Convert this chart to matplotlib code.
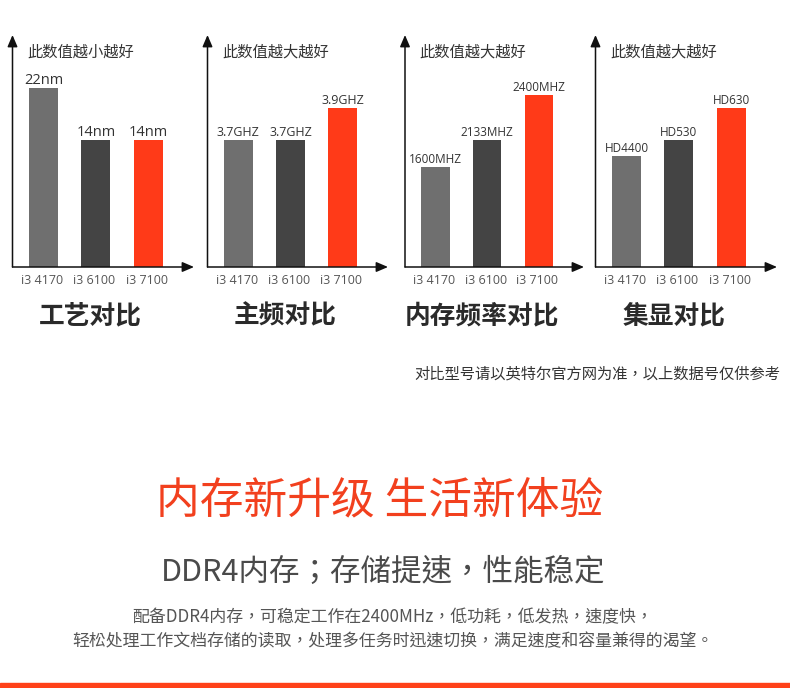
import matplotlib
matplotlib.use("Agg")
import matplotlib.pyplot as plt
from matplotlib.patches import Rectangle

plt.rcParams['font.family'] = ['Noto Sans CJK SC', 'DejaVu Sans']

# data (bar heights are relative, axis height = 232)
models = ['i3 4170', 'i3 6100', 'i3 7100']
titles = ['工艺对比', '主频对比', '内存频率对比', '集显对比']
hints = ['此数值越小越好', '此数值越大越好', '此数值越大越好', '此数值越大越好']
process_labels = ['22nm', '14nm', '14nm']
process_heights = [179, 127, 127]
freq_labels = ['3.7GHZ', '3.7GHZ', '3.9GHZ']
freq_heights = [127, 127, 159]
mem_labels = ['1600MHZ', '2133MHZ', '2400MHZ']
mem_heights = [100, 127, 172]
gpu_labels = ['HD4400', 'HD530', 'HD630']
gpu_heights = [111, 127, 159]

panels = [
    (process_labels, process_heights),
    (freq_labels, freq_heights),
    (mem_labels, mem_heights),
    (gpu_labels, gpu_heights),
]

bar_colors = ['#6f6f6f', '#444444', '#ff3a18']
red = '#f2401e'
W, H = 790, 688
# TC variant centres the full-width comma, like the original
tc = ['Noto Sans CJK TC', 'DejaVu Sans']

fig = plt.figure(figsize=(7.9, 6.88), dpi=100)
fig.patch.set_facecolor('white')

# pixel positions of each panel's y axis and x-axis arrow end
axis_left = [12.5, 207.5, 405, 595.5]
axis_right = [194, 388, 584, 777]
axis_bottom = 267
axis_top = 35
value_size = [10.5, 9, 8.5, 8.5]

for i, (labels, heights) in enumerate(panels):
    l = axis_left[i]
    ax = fig.add_axes([l / W, 1 - axis_bottom / H,
                       (axis_right[i] - l) / W, (axis_bottom - axis_top) / H])
    x = list(range(len(heights)))
    ax.bar(x, heights, width=0.55, color=bar_colors)
    ax.set_xlim(-0.59, 2.87)
    ax.set_ylim(0, axis_bottom - axis_top)
    ax.axis('off')

    # axes with arrow heads
    ax.annotate('', xy=(1, 0), xytext=(0, 0), xycoords='axes fraction',
                arrowprops=dict(arrowstyle='-|>,head_length=0.7,head_width=0.3',
                                color='#111111', lw=1.1, shrinkA=0, shrinkB=0))
    ax.annotate('', xy=(0, 1), xytext=(0, 0), xycoords='axes fraction',
                arrowprops=dict(arrowstyle='-|>,head_length=0.7,head_width=0.3',
                                color='#111111', lw=1.1, shrinkA=0, shrinkB=0))

    for xi, h, lab in zip(x, heights, labels):
        ax.annotate(lab, (xi, h), xytext=(0, 3), textcoords='offset points',
                    ha='center', va='baseline', fontsize=value_size[i],
                    family=['Open Sans', 'DejaVu Sans'], color='#333333')

    tr = ax.get_xaxis_transform()
    for xi, m in zip(x, models):
        ax.text(xi - 0.03, -0.06, m, transform=tr, ha='center', va='center',
                fontsize=9, family=['Open Sans', 'DejaVu Sans'], color='#555555')

    ax.text(0.9, -0.212, titles[i], transform=tr, ha='center', va='center',
            fontsize=18.5, fontweight='bold', color='#2a2a2a')
    ax.text(0.08, 0.928, hints[i], transform=ax.transAxes, ha='left',
            va='center', fontsize=11, color='#333333')

# note and marketing text
fig.text(780 / W, 1 - 374 / H, '对比型号请以英特尔官方网为准，以上数据号仅供参考',
         ha='right', va='center', fontsize=11, color='#333333', family=tc)
fig.text(380 / W, 1 - 500 / H, '内存新升级 生活新体验',
         ha='center', va='center', fontsize=31.5, color=red)
fig.text(383 / W, 1 - 572 / H, 'DDR4内存；存储提速，性能稳定',
         ha='center', va='center', fontsize=22, color='#4a4a4a', family=tc)
fig.text(393 / W, 1 - 617 / H, '配备DDR4内存，可稳定工作在2400MHz，低功耗，低发热，速度快，',
         ha='center', va='center', fontsize=12.2, color='#555555', family=tc)
fig.text(393 / W, 1 - 641 / H, '轻松处理工作文档存储的读取，处理多任务时迅速切换，满足速度和容量兼得的渴望。',
         ha='center', va='center', fontsize=12.2, color='#555555', family=tc)

# red strip at the bottom
fig.patches.append(Rectangle((0, 0), 1, 5 / H, transform=fig.transFigure,
                             color='#ff4119', zorder=0))

fig.savefig('out.png', dpi=100, facecolor='white')
